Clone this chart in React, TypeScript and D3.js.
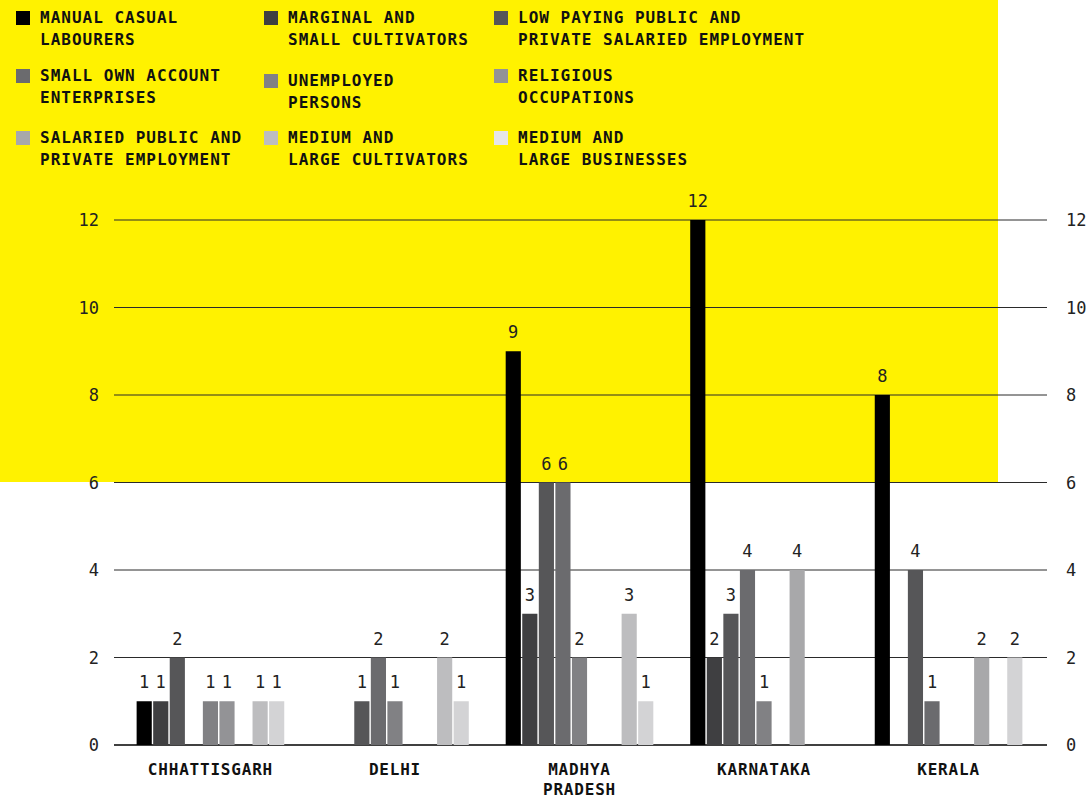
import React from "react";
import * as d3 from "d3";

const states = ["CHHATTISGARH", "DELHI", "MADHYA PRADESH", "KARNATAKA", "KERALA"];
const seriesNames = [
  "MANUAL CASUAL LABOURERS",
  "MARGINAL AND SMALL CULTIVATORS",
  "LOW PAYING PUBLIC AND PRIVATE SALARIED EMPLOYMENT",
  "SMALL OWN ACCOUNT ENTERPRISES",
  "UNEMPLOYED PERSONS",
  "RELIGIOUS OCCUPATIONS",
  "SALARIED PUBLIC AND PRIVATE EMPLOYMENT",
  "MEDIUM AND LARGE CULTIVATORS",
  "MEDIUM AND LARGE BUSINESSES",
];
const legendLines = [
  ["MANUAL CASUAL", "LABOURERS"],
  ["MARGINAL AND", "SMALL CULTIVATORS"],
  ["LOW PAYING PUBLIC AND", "PRIVATE SALARIED EMPLOYMENT"],
  ["SMALL OWN ACCOUNT", "ENTERPRISES"],
  ["UNEMPLOYED", "PERSONS"],
  ["RELIGIOUS", "OCCUPATIONS"],
  ["SALARIED PUBLIC AND", "PRIVATE EMPLOYMENT"],
  ["MEDIUM AND", "LARGE CULTIVATORS"],
  ["MEDIUM AND", "LARGE BUSINESSES"],
];
const colors = ["#000000", "#3f3f41", "#565658", "#6b6b6e", "#818184", "#939396", "#a8a8aa", "#bdbdbf", "#d3d3d5"];
// values per state, in series order
const chhattisgarh = [1, 1, 2, 0, 1, 1, 0, 1, 1];
const delhi = [0, 0, 1, 2, 1, 0, 0, 2, 1];
const madhyaPradesh = [9, 3, 6, 6, 2, 0, 0, 3, 1];
const karnataka = [12, 2, 3, 4, 1, 0, 4, 0, 0];
const kerala = [8, 0, 4, 1, 0, 0, 2, 0, 2];
const values = [chhattisgarh, delhi, madhyaPradesh, karnataka, kerala];
const yTicks = [0, 2, 4, 6, 8, 10, 12];

const W = 1088;
const H = 798;
const mono = "'DejaVu Sans Mono', monospace";

export default function App() {
  const x0 = d3.scaleBand<string>().domain(states).range([113, 1046]).paddingInner(0.2).paddingOuter(0.128);
  const x1 = d3
    .scaleBand<number>()
    .domain(d3.range(seriesNames.length))
    .range([0, x0.bandwidth()])
    .paddingInner(0.085)
    .paddingOuter(0);
  const y = d3.scaleLinear().domain([0, 12]).range([745, 220]);

  const legendCols = [16, 264, 494];
  const legendRows = [18, 76, 138];
  const rowOffset = [0, 0, 0, 0, 5, 0, 0, 0, 0];

  return (
    <svg width={W} height={H} style={{ position: "absolute", left: 0, top: 0, display: "block" }}>
      <rect x={0} y={0} width={W} height={H} fill="#ffffff" />
      <rect x={0} y={0} width={998} height={482} fill="#fff200" />

      {/* legend */}
      {legendLines.map((lines, i) => {
        const cx = legendCols[i % 3];
        const cy = legendRows[Math.floor(i / 3)] + rowOffset[i];
        return (
          <g key={i}>
            <rect x={cx} y={cy - 7} width={14} height={14} fill={i === 8 ? "#e6e6e8" : colors[i]} />
            {lines.map((ln, j) => (
              <text
                key={j}
                x={cx + 24}
                y={cy + 5 + j * 21.5}
                fontFamily={mono}
                fontWeight="bold"
                fontSize={16}
                letterSpacing={1}
                fill="#111"
              >
                {ln}
              </text>
            ))}
          </g>
        );
      })}

      {/* gridlines */}
      {yTicks.map((t) => (
        <line
          key={t}
          x1={114}
          x2={1047}
          y1={y(t)}
          y2={y(t)}
          stroke={t === 0 ? "#000" : "#2a2a2a"}
          strokeWidth={t === 0 ? 1.5 : 1}
        />
      ))}
      {yTicks.map((t) => (
        <g key={"l" + t} fontFamily={mono} fontSize={17} fill="#222">
          <text x={99} y={y(t)} textAnchor="end" dominantBaseline="central">
            {t}
          </text>
          <text x={1066} y={y(t)} textAnchor="start" dominantBaseline="central">
            {t}
          </text>
        </g>
      ))}

      {/* bars */}
      {states.map((s, si) => (
        <g key={s} transform={`translate(${x0(s)},0)`}>
          {values[si].map((v, k) =>
            v > 0 ? (
              <g key={k}>
                <rect x={x1(k)} y={y(v)} width={x1.bandwidth()} height={y(0) - y(v)} fill={colors[k]} />
                <text
                  x={(x1(k) as number) + x1.bandwidth() / 2}
                  y={y(v) - 13}
                  textAnchor="middle"
                  fontFamily={mono}
                  fontSize={17}
                  fill="#222"
                >
                  {v}
                </text>
              </g>
            ) : null
          )}
        </g>
      ))}

      {/* category labels */}
      {states.map((s) => {
        const words = s === "MADHYA PRADESH" ? ["MADHYA", "PRADESH"] : [s];
        const cx = (x0(s) as number) + x0.bandwidth() / 2;
        return (
          <g key={"c" + s}>
            {words.map((w, j) => (
              <text
                key={j}
                x={cx}
                y={775 + j * 20}
                textAnchor="middle"
                fontFamily={mono}
                fontWeight="bold"
                fontSize={16}
                letterSpacing={0.8}
                fill="#111"
              >
                {w}
              </text>
            ))}
          </g>
        );
      })}
    </svg>
  );
}
